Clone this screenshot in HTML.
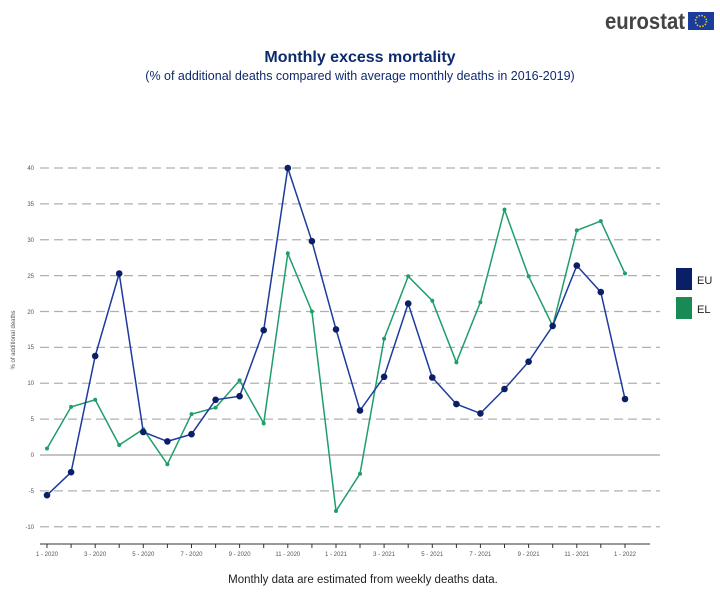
<!DOCTYPE html>
<html><head><meta charset="utf-8"><style>
body{margin:0;background:#fff;width:720px;height:589px;overflow:hidden;font-family:"Liberation Sans",sans-serif}
</style></head><body>
<svg width="720" height="589" xmlns="http://www.w3.org/2000/svg" font-family="Liberation Sans, sans-serif">
<text x="605" y="29" font-size="23" font-weight="bold" fill="#444" textLength="80" lengthAdjust="spacingAndGlyphs">eurostat</text>
<rect x="688" y="12" width="26" height="18" fill="#1a3d9c"/>
<circle cx="701" cy="21" r="5.5" fill="none" stroke="#f5d000" stroke-width="1.5" stroke-dasharray="1.5 1.4"/>
<text x="360" y="62" font-size="16" font-weight="bold" fill="#0e2a6e" text-anchor="middle">Monthly excess mortality</text>
<text x="360" y="80" font-size="12.5" fill="#0e2a6e" text-anchor="middle">(% of additional deaths compared with average monthly deaths in 2016-2019)</text>
<g stroke="#b0b0b0" stroke-width="1.2" stroke-dasharray="9 5">
<line x1="40" x2="660" y1="168" y2="168"/><line x1="40" x2="660" y1="203.9" y2="203.9"/><line x1="40" x2="660" y1="239.75" y2="239.75"/><line x1="40" x2="660" y1="275.6" y2="275.6"/><line x1="40" x2="660" y1="311.5" y2="311.5"/><line x1="40" x2="660" y1="347.4" y2="347.4"/><line x1="40" x2="660" y1="383.25" y2="383.25"/><line x1="40" x2="660" y1="419.1" y2="419.1"/><line x1="40" x2="660" y1="490.9" y2="490.9"/><line x1="40" x2="660" y1="526.75" y2="526.75"/>
</g>
<line x1="40" x2="660" y1="455" y2="455" stroke="#b0b0b0" stroke-width="1.5"/>
<g font-size="6" fill="#555" text-anchor="end">
<text x="34" y="170">40</text><text x="34" y="206">35</text><text x="34" y="242">30</text><text x="34" y="278">25</text><text x="34" y="314">20</text><text x="34" y="349">15</text><text x="34" y="385">10</text><text x="34" y="421">5</text><text x="34" y="457">0</text><text x="34" y="493">-5</text><text x="34" y="529">-10</text>
</g>
<text transform="translate(15,340) rotate(-90)" font-size="6" fill="#555" text-anchor="middle">% of additional deaths</text>
<line x1="40" x2="650" y1="544" y2="544" stroke="#333" stroke-width="1"/>
<g stroke="#333" stroke-width="1">
<line x1="47" x2="47" y1="544" y2="548"/><line x1="71.1" x2="71.1" y1="544" y2="548"/><line x1="95.2" x2="95.2" y1="544" y2="548"/><line x1="119.2" x2="119.2" y1="544" y2="548"/><line x1="143.3" x2="143.3" y1="544" y2="548"/><line x1="167.4" x2="167.4" y1="544" y2="548"/><line x1="191.5" x2="191.5" y1="544" y2="548"/><line x1="215.6" x2="215.6" y1="544" y2="548"/><line x1="239.6" x2="239.6" y1="544" y2="548"/><line x1="263.7" x2="263.7" y1="544" y2="548"/><line x1="287.8" x2="287.8" y1="544" y2="548"/><line x1="311.9" x2="311.9" y1="544" y2="548"/><line x1="336" x2="336" y1="544" y2="548"/><line x1="360" x2="360" y1="544" y2="548"/><line x1="384.1" x2="384.1" y1="544" y2="548"/><line x1="408.2" x2="408.2" y1="544" y2="548"/><line x1="432.3" x2="432.3" y1="544" y2="548"/><line x1="456.4" x2="456.4" y1="544" y2="548"/><line x1="480.4" x2="480.4" y1="544" y2="548"/><line x1="504.5" x2="504.5" y1="544" y2="548"/><line x1="528.6" x2="528.6" y1="544" y2="548"/><line x1="552.7" x2="552.7" y1="544" y2="548"/><line x1="576.8" x2="576.8" y1="544" y2="548"/><line x1="600.8" x2="600.8" y1="544" y2="548"/><line x1="625" x2="625" y1="544" y2="548"/>
</g>
<g font-size="6" fill="#555" text-anchor="middle">
<text x="47" y="556">1 - 2020</text><text x="95.2" y="556">3 - 2020</text><text x="143.3" y="556">5 - 2020</text><text x="191.5" y="556">7 - 2020</text><text x="239.6" y="556">9 - 2020</text><text x="287.8" y="556">11 - 2020</text><text x="336" y="556">1 - 2021</text><text x="384.1" y="556">3 - 2021</text><text x="432.3" y="556">5 - 2021</text><text x="480.4" y="556">7 - 2021</text><text x="528.6" y="556">9 - 2021</text><text x="576.8" y="556">11 - 2021</text><text x="625" y="556">1 - 2022</text>
</g>
<polyline fill="none" stroke="#1f9e6a" stroke-width="1.5" points="47,448.5 71.1,406.9 95.2,399.8 119.2,445 143.3,429.2 167.4,464.3 191.5,414.1 215.6,407.6 239.6,380.4 263.7,423.4 287.8,253.4 311.9,311.5 336,511 360,473.7 384.1,338.8 408.2,276.3 432.3,300.7 456.4,362.4 480.4,302.2 504.5,209.6 528.6,276.3 552.7,325.9 576.8,230.4 600.8,221.1 625,273.5"/>
<g fill="#1f9e6a">
<circle cx="47" cy="448.5" r="2"/><circle cx="71.1" cy="406.9" r="2"/><circle cx="95.2" cy="399.8" r="2"/><circle cx="119.2" cy="445" r="2"/><circle cx="143.3" cy="429.2" r="2"/><circle cx="167.4" cy="464.3" r="2"/><circle cx="191.5" cy="414.1" r="2"/><circle cx="215.6" cy="407.6" r="2"/><circle cx="239.6" cy="380.4" r="2"/><circle cx="263.7" cy="423.4" r="2"/><circle cx="287.8" cy="253.4" r="2"/><circle cx="311.9" cy="311.5" r="2"/><circle cx="336" cy="511" r="2"/><circle cx="360" cy="473.7" r="2"/><circle cx="384.1" cy="338.8" r="2"/><circle cx="408.2" cy="276.3" r="2"/><circle cx="432.3" cy="300.7" r="2"/><circle cx="456.4" cy="362.4" r="2"/><circle cx="480.4" cy="302.2" r="2"/><circle cx="504.5" cy="209.6" r="2"/><circle cx="528.6" cy="276.3" r="2"/><circle cx="552.7" cy="325.9" r="2"/><circle cx="576.8" cy="230.4" r="2"/><circle cx="600.8" cy="221.1" r="2"/><circle cx="625" cy="273.5" r="2"/>
</g>
<polyline fill="none" stroke="#1d3a9e" stroke-width="1.5" points="47,495.2 71.1,472.2 95.2,356 119.2,273.5 143.3,432 167.4,441.4 191.5,434.2 215.6,399.8 239.6,396.2 263.7,330.2 287.8,168 311.9,241.2 336,329.4 360,410.5 384.1,376.8 408.2,303.6 432.3,377.5 456.4,404.1 480.4,413.4 504.5,389 528.6,361.7 552.7,325.9 576.8,265.6 600.8,292.1 625,399"/>
<g fill="#0b1f66">
<circle cx="47" cy="495.2" r="3.3"/><circle cx="71.1" cy="472.2" r="3.3"/><circle cx="95.2" cy="356" r="3.3"/><circle cx="119.2" cy="273.5" r="3.3"/><circle cx="143.3" cy="432" r="3.3"/><circle cx="167.4" cy="441.4" r="3.3"/><circle cx="191.5" cy="434.2" r="3.3"/><circle cx="215.6" cy="399.8" r="3.3"/><circle cx="239.6" cy="396.2" r="3.3"/><circle cx="263.7" cy="330.2" r="3.3"/><circle cx="287.8" cy="168" r="3.3"/><circle cx="311.9" cy="241.2" r="3.3"/><circle cx="336" cy="329.4" r="3.3"/><circle cx="360" cy="410.5" r="3.3"/><circle cx="384.1" cy="376.8" r="3.3"/><circle cx="408.2" cy="303.6" r="3.3"/><circle cx="432.3" cy="377.5" r="3.3"/><circle cx="456.4" cy="404.1" r="3.3"/><circle cx="480.4" cy="413.4" r="3.3"/><circle cx="504.5" cy="389" r="3.3"/><circle cx="528.6" cy="361.7" r="3.3"/><circle cx="552.7" cy="325.9" r="3.3"/><circle cx="576.8" cy="265.6" r="3.3"/><circle cx="600.8" cy="292.1" r="3.3"/><circle cx="625" cy="399" r="3.3"/>
</g>
<rect x="676" y="268" width="16" height="22" fill="#0b1f66"/>
<text x="697" y="284" font-size="11" fill="#222">EU</text>
<rect x="676" y="297" width="16" height="22" fill="#1a8a55"/>
<text x="697" y="313" font-size="11" fill="#222">EL</text>
<text x="363" y="583" font-size="11.5" fill="#222" text-anchor="middle">Monthly data are estimated from weekly deaths data.</text>
</svg>
</body></html>
